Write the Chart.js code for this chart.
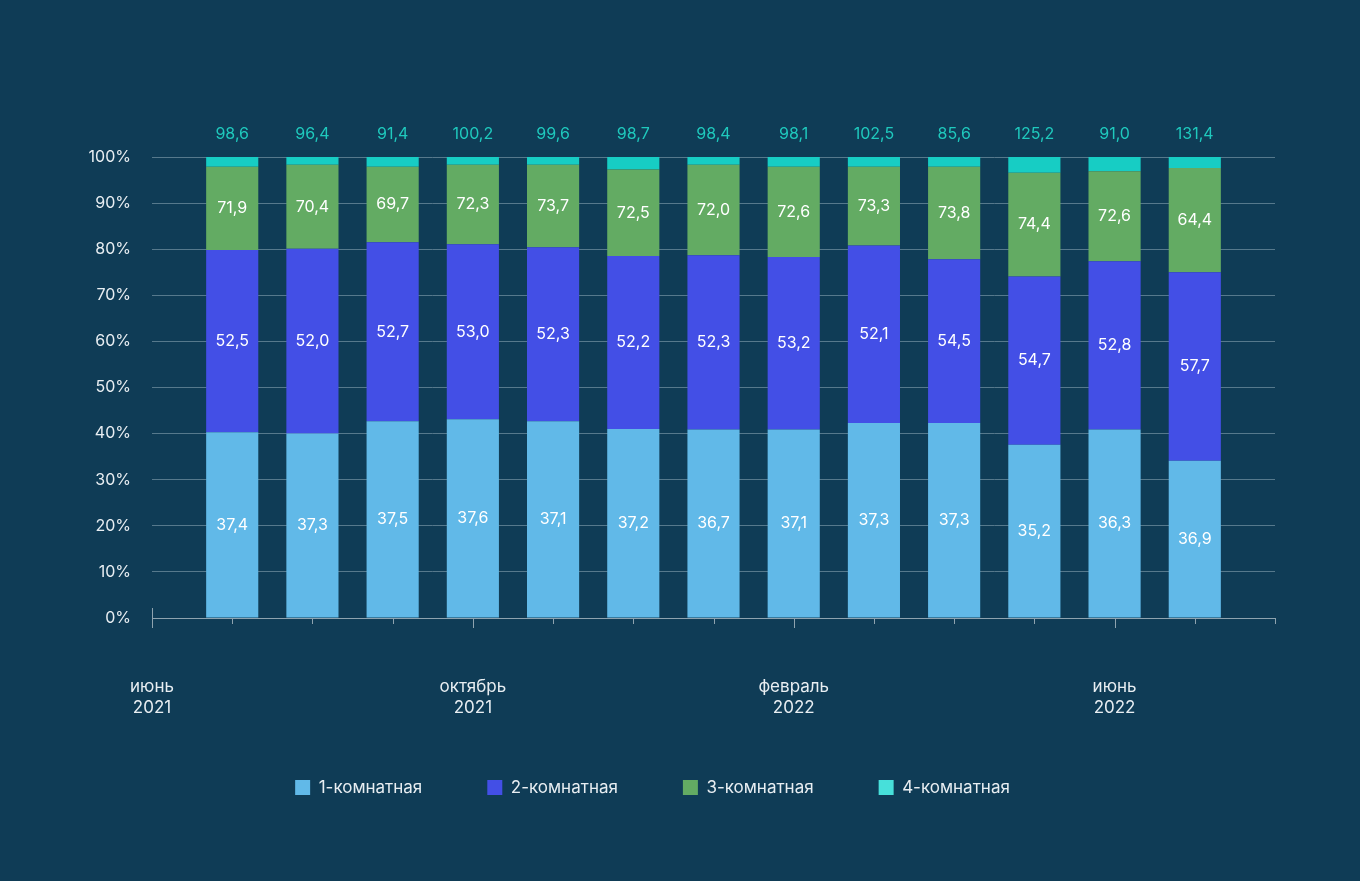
<!DOCTYPE html>
<html lang="ru">
<head>
<meta charset="UTF-8">
<title>Структура предложения</title>
<script src="https://cdn.jsdelivr.net/npm/chart.js"></script>
<style>
  html, body { margin: 0; padding: 0; background: #0f3c56; }
  #wrap { width: 1360px; height: 881px; }
</style>
</head>
<body>
<div id="wrap"><canvas id="c" width="1360" height="881"></canvas></div>
<script>
// месяцы по оси (первая и последняя точки без столбцов)
const months = ['июнь 2021', 'июль 2021', 'август 2021', 'сентябрь 2021', 'октябрь 2021', 'ноябрь 2021',
  'декабрь 2021', 'январь 2022', 'февраль 2022', 'март 2022', 'апрель 2022', 'май 2022',
  'июнь 2022', 'июль 2022', 'август 2022'];
const shownMonths = ['июнь 2021', 'октябрь 2021', 'февраль 2022', 'июнь 2022'];

// доли, %
const share1 = [null, 40.3, 40.0, 42.7, 43.1, 42.7, 41.0, 40.9, 40.9, 42.3, 42.3, 37.6, 40.9, 34.1, null];
const share2 = [null, 39.5, 40.1, 38.8, 38.0, 37.7, 37.5, 37.8, 37.4, 38.5, 35.5, 36.5, 36.5, 40.9, null];
const share3 = [null, 18.1, 18.2, 16.4, 17.2, 17.9, 18.8, 19.6, 19.6, 17.1, 20.1, 22.5, 19.5, 22.6, null];
const share4 = [null, 2.1, 1.7, 2.1, 1.7, 1.7, 2.7, 1.7, 2.1, 2.1, 2.1, 3.4, 3.1, 2.4, null];

// подписи
const label1 = [null, '37,4', '37,3', '37,5', '37,6', '37,1', '37,2', '36,7', '37,1', '37,3', '37,3', '35,2', '36,3', '36,9', null];
const label2 = [null, '52,5', '52,0', '52,7', '53,0', '52,3', '52,2', '52,3', '53,2', '52,1', '54,5', '54,7', '52,8', '57,7', null];
const label3 = [null, '71,9', '70,4', '69,7', '72,3', '73,7', '72,5', '72,0', '72,6', '73,3', '73,8', '74,4', '72,6', '64,4', null];
const label4 = [null, '98,6', '96,4', '91,4', '100,2', '99,6', '98,7', '98,4', '98,1', '102,5', '85,6', '125,2', '91,0', '131,4', null];

const FONT = 'Inter, "Noto Sans", sans-serif';

// подписи на столбцах
const valueLabels = {
  id: 'valueLabels',
  afterDatasetsDraw(chart) {
    const ctx = chart.ctx;
    const texts = [label1, label2, label3];
    ctx.save();
    ctx.font = '16px ' + FONT;
    ctx.textAlign = 'center';
    ctx.textBaseline = 'middle';
    texts.forEach((arr, di) => {
      chart.getDatasetMeta(di).data.forEach((el, i) => {
        if (!arr[i]) return;
        ctx.fillStyle = '#ffffff';
        ctx.fillText(arr[i], el.x, (el.y + el.base) / 2);
      });
    });
    chart.getDatasetMeta(3).data.forEach((el, i) => {
      if (!label4[i]) return;
      ctx.fillStyle = '#1fc9bd';
      ctx.fillText(label4[i], el.x, chart.chartArea.top - 23);
    });
    ctx.restore();
  }
};

// засечки и подписи оси X
const axisTicks = {
  id: 'axisTicks',
  afterDraw(chart) {
    const ctx = chart.ctx;
    const xs = chart.scales.x;
    const y0 = chart.chartArea.bottom;
    ctx.save();
    ctx.strokeStyle = '#8ea3af';
    ctx.lineWidth = 1;
    ctx.beginPath();
    months.forEach((m, i) => {
      const x = Math.round(xs.getPixelForTick(i)) + 0.5;
      const big = shownMonths.includes(m);
      ctx.moveTo(x, i === 0 ? y0 - 10 : y0);
      ctx.lineTo(x, y0 + (big ? 10 : 6));
    });
    ctx.stroke();

    ctx.fillStyle = '#e8eef2';
    ctx.font = '17px ' + FONT;
    ctx.textAlign = 'center';
    ctx.textBaseline = 'middle';
    shownMonths.forEach(m => {
      const x = xs.getPixelForTick(months.indexOf(m));
      const [mon, yr] = m.split(' ');
      ctx.fillText(mon, x, y0 + 69);
      ctx.fillText(yr, x, y0 + 90);
    });
    ctx.restore();
  }
};

const mk = (label, data, color) => ({
  label, data, backgroundColor: color, borderWidth: 0,
  barPercentage: 0.65, categoryPercentage: 1.0
});

new Chart(document.getElementById('c'), {
  type: 'bar',
  data: {
    labels: months,
    datasets: [
      mk('1-комнатная', share1, '#61b9e8'),
      mk('2-комнатная', share2, '#434fe6'),
      mk('3-комнатная', share3, '#63ab63'),
      mk('4-комнатная', share4, '#17cdc4')
    ]
  },
  options: {
    responsive: false,
    animation: false,
    layout: { padding: { top: 157, right: 85, left: 30, bottom: 75 } },
    plugins: {
      legend: {
        position: 'bottom',
        labels: {
          color: '#e8eef2',
          font: { family: FONT, size: 17 },
          boxWidth: 15, boxHeight: 15,
          padding: 65,
          generateLabels(chart) {
            const cols = ['#61b9e8', '#434fe6', '#63ab63', '#47e0da'];
            return chart.data.datasets.map((d, i) => ({
              text: d.label, fillStyle: cols[i], strokeStyle: cols[i], lineWidth: 0,
              fontColor: '#e8eef2', datasetIndex: i
            }));
          }
        }
      },
      tooltip: { enabled: false }
    },
    scales: {
      x: {
        stacked: true,
        offset: false,
        afterFit(s) { s.height = 96; },
        grid: { display: false, drawTicks: false },
        border: { display: true, color: '#8ea3af' },
        ticks: { display: false, autoSkip: false }
      },
      y: {
        stacked: true,
        min: 0, max: 100,
        afterFit(s) { s.width = 122; },
        grid: { color: '#56798c', drawTicks: false },
        border: { display: false },
        ticks: {
          stepSize: 10,
          padding: 21,
          color: '#e8eef2',
          font: { family: FONT, size: 16 },
          callback: v => v + '%'
        }
      }
    }
  },
  plugins: [valueLabels, axisTicks]
});
</script>
</body>
</html>
